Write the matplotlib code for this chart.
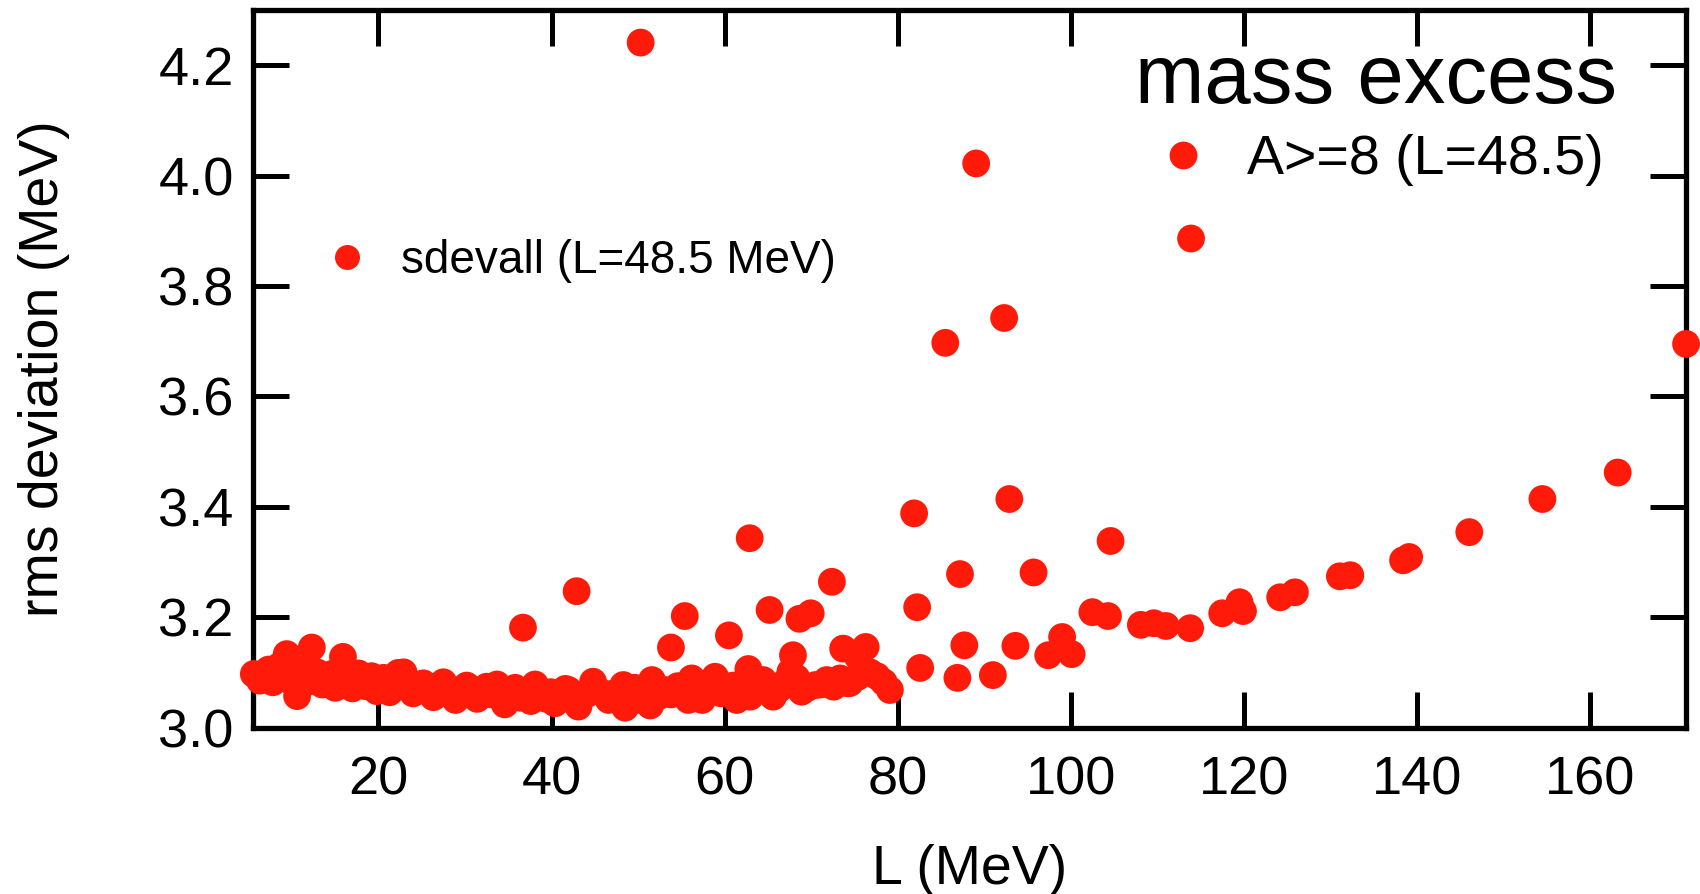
import matplotlib
matplotlib.use("Agg")
import matplotlib.pyplot as plt
from matplotlib.lines import Line2D

plt.rcParams['font.family'] = ['Liberation Sans', 'DejaVu Sans']

# L (MeV) and rms deviation (MeV)
L_vals = [
    5.6, 6.3, 7.3, 7.8, 8.6, 9.4, 9.9, 10.6, 11.2, 11.7, 12.3, 12.9, 13.5, 14.3,
    15.0, 15.9, 16.4, 17.0, 17.7, 18.5, 19.2, 19.8, 20.6, 21.3, 22.3,
    6.8, 8.1, 9.0, 10.2, 11.0, 12.0, 13.2, 14.0, 14.8, 15.5, 16.8, 17.3, 18.0,
    18.9, 19.5, 20.2, 21.0, 21.8,
    22.9, 24.0, 25.2, 26.35, 27.5, 28.9, 30.2, 31.4, 32.5, 33.7, 34.6, 35.8,
    37.1, 38.1, 39.4, 40.4, 41.6, 36.7,
    23.4, 24.6, 25.8, 26.9, 28.2, 29.5, 30.8, 32.0, 33.1, 34.2, 35.2, 36.4,
    37.6, 38.8, 39.9, 41.0,
    41.95, 43.1, 44.8, 46.6, 48.3, 48.5, 50.2, 51.6, 51.4, 53.1, 56.2, 55.8,
    57.4, 58.9, 60.4, 42.9, 55.4, 60.5, 53.8, 50.3,
    42.5, 44.0, 45.5, 47.2, 49.0, 49.6, 50.8, 52.3, 53.8, 54.6, 55.0, 56.8,
    58.2, 59.6, 61.0, 62.0,
    61.4, 62.75, 62.95, 64.45, 65.6, 67.6, 68.9, 70.5, 71.8, 73.35, 74.3,
    77.6, 78.4, 79.1, 65.2, 68.65, 69.95, 67.9, 73.7, 76.3, 72.4, 62.9,
    75.4, 74.5,
    63.6, 64.9, 66.3, 67.0, 68.3, 69.6, 71.1, 72.6, 75.4, 76.8,
    82.6, 86.9, 91.0, 87.7, 93.6, 99.0, 97.4, 100.1, 82.25, 81.9, 87.2,
    95.7, 92.9, 92.3, 85.5, 89.07,
    102.5, 104.3, 104.6, 108.1, 109.6, 111.0, 113.8, 113.9, 117.5, 119.5,
    119.9, 124.2, 125.9, 131.1, 132.3, 138.4, 139.1, 146.05, 154.5, 163.2,
    171.1,
]
rms_vals = [
    3.097, 3.085, 3.105, 3.082, 3.112, 3.133, 3.095, 3.057, 3.105, 3.082, 3.145,
    3.100, 3.078, 3.095, 3.072, 3.128, 3.090, 3.071, 3.098, 3.075, 3.093, 3.066,
    3.090, 3.064, 3.099,
    3.095, 3.090, 3.100, 3.080, 3.092, 3.090, 3.088, 3.080, 3.098, 3.085, 3.082,
    3.092, 3.085, 3.082, 3.082, 3.075, 3.082, 3.080,
    3.100, 3.062, 3.080, 3.055, 3.082, 3.050, 3.076, 3.052, 3.074, 3.078, 3.042,
    3.072, 3.060, 3.078, 3.052, 3.044, 3.070, 3.181,
    3.085, 3.072, 3.068, 3.070, 3.066, 3.064, 3.062, 3.062, 3.060, 3.058, 3.058,
    3.054, 3.048, 3.060, 3.064, 3.058,
    3.068, 3.038, 3.083, 3.050, 3.077, 3.036, 3.050, 3.086, 3.040, 3.068, 3.089,
    3.050, 3.050, 3.092, 3.074, 3.247, 3.202, 3.167, 3.145, 4.241,
    3.055, 3.060, 3.066, 3.062, 3.058, 3.072, 3.066, 3.056, 3.060, 3.075, 3.062,
    3.068, 3.070, 3.062, 3.076, 3.072,
    3.050, 3.106, 3.056, 3.086, 3.056, 3.101, 3.065, 3.077, 3.086, 3.089, 3.080,
    3.093, 3.082, 3.068, 3.213, 3.197, 3.207, 3.131, 3.143, 3.146, 3.264, 3.343,
    3.128, 3.081,
    3.070, 3.074, 3.070, 3.082, 3.090, 3.072, 3.078, 3.074, 3.092, 3.100,
    3.108, 3.090, 3.095, 3.149, 3.148, 3.164, 3.131, 3.133, 3.218, 3.388, 3.278,
    3.281, 3.414, 3.742, 3.697, 4.022,
    3.209, 3.202, 3.338, 3.186, 3.189, 3.184, 3.180, 3.886, 3.207, 3.227,
    3.211, 3.236, 3.245, 3.274, 3.276, 3.303, 3.309, 3.354, 3.414, 3.462,
    3.695,
]

x_ticks = [20, 40, 60, 80, 100, 120, 140, 160]
y_ticks = [3.0, 3.2, 3.4, 3.6, 3.8, 4.0, 4.2]

red = '#ff1a0a'

fig = plt.figure(figsize=(17, 8.94), dpi=100)
ax = fig.add_axes([0.149, 0.1862, 0.8428, 0.8026])

ax.scatter(L_vals, rms_vals, s=400, color=red, edgecolors='none', clip_on=False, zorder=3)

ax.set_xlim(5.54, 171.1)
ax.set_ylim(3.0, 4.3)
ax.set_xticks(x_ticks)
ax.set_yticks(y_ticks)
ax.set_yticklabels([f"{v:.1f}" for v in y_ticks])

for s in ax.spines.values():
    s.set_linewidth(3.8)
ax.tick_params(direction='in', length=26, width=3.6, top=True, right=True,
               labelsize=39)
ax.tick_params(axis='x', pad=20)
ax.tick_params(axis='y', pad=14)

ax.set_xlabel("L (MeV)", fontsize=40, labelpad=28)
ax.set_ylabel("rms deviation (MeV)", fontsize=40, labelpad=64)

# legends
h1 = Line2D([], [], linestyle='none', marker='o', markersize=18,
            markerfacecolor=red, markeredgecolor='none')
leg1 = ax.legend([h1], ["sdevall (L=48.5 MeV)"], loc='center left',
                 bbox_to_anchor=(0.0496, 0.650), frameon=False, fontsize=33,
                 handlelength=1.0, handletextpad=0.68, borderpad=0,
                 borderaxespad=0)
ax.add_artist(leg1)
h2 = Line2D([], [], linestyle='none', marker='o', markersize=20,
            markerfacecolor=red, markeredgecolor='none')
ax.legend([h2], ["A>=8 (L=48.5)"], loc='center left',
          bbox_to_anchor=(0.6296, 0.791), frameon=False, fontsize=40,
          handlelength=1.0, handletextpad=0.65, borderpad=0, borderaxespad=0)

ax.text(0.9518, 0.8704, "mass excess", transform=ax.transAxes, ha='right',
        va='baseline', fontsize=60)

fig.savefig("out.png", dpi=100)
